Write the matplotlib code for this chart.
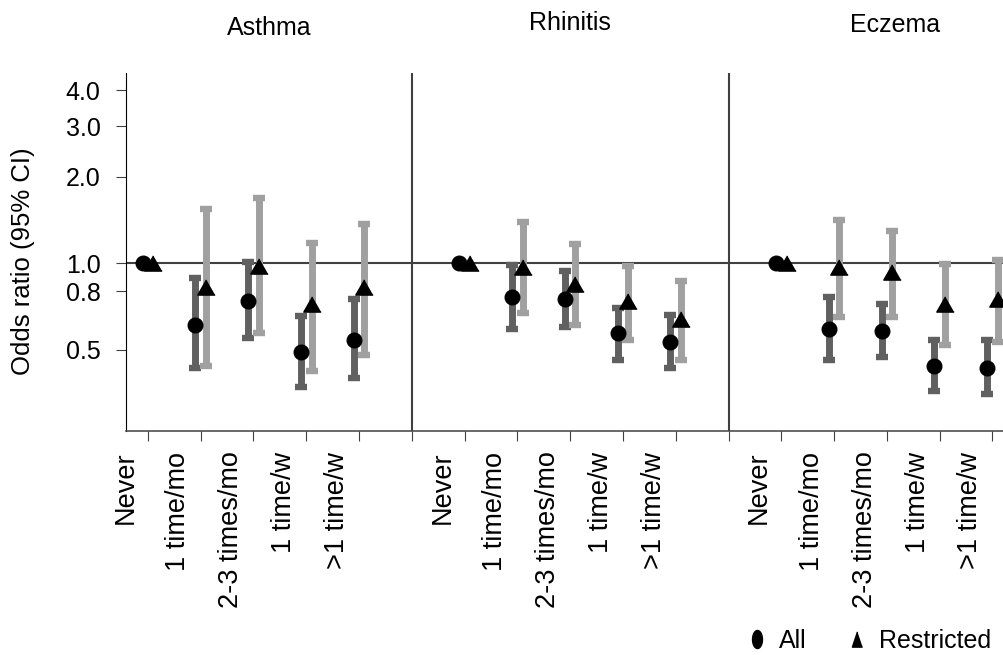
import numpy as np
import matplotlib.pyplot as plt
from matplotlib.lines import Line2D

plt.rcParams['font.family'] = ['Liberation Sans', 'DejaVu Sans']

outcomes = ['Asthma', 'Rhinitis', 'Eczema']
categories = ['Never', '1 time/mo', '2-3 times/mo', '1 time/w', '>1 time/w']
nan = float('nan')

# odds ratios (95% CI), one row per outcome; "Never" is the reference
all_or = [[1.0, 0.61, 0.74, 0.49, 0.54],
          [1.0, 0.76, 0.75, 0.57, 0.53],
          [1.0, 0.59, 0.58, 0.44, 0.43]]
all_lo = [[nan, 0.43, 0.55, 0.37, 0.40],
          [nan, 0.59, 0.60, 0.46, 0.43],
          [nan, 0.46, 0.47, 0.36, 0.35]]
all_hi = [[nan, 0.89, 1.01, 0.655, 0.75],
          [nan, 0.99, 0.94, 0.70, 0.66],
          [nan, 0.76, 0.72, 0.54, 0.54]]

res_or = [[1.0, 0.83, 0.98, 0.72, 0.83],
          [1.0, 0.97, 0.85, 0.74, 0.64],
          [1.0, 0.97, 0.935, 0.72, 0.75]]
res_lo = [[nan, 0.44, 0.57, 0.42, 0.48],
          [nan, 0.67, 0.61, 0.54, 0.46],
          [nan, 0.65, 0.65, 0.52, 0.53]]
res_hi = [[nan, 1.55, 1.69, 1.18, 1.37],
          [nan, 1.39, 1.17, 0.98, 0.87],
          [nan, 1.42, 1.30, 0.995, 1.03]]

yticks = [0.5, 0.8, 1.0, 2.0, 3.0, 4.0]

dark = '#606060'
light = '#a0a0a0'
line_col = '#404040'

fig = plt.figure(figsize=(10.04, 6.55), dpi=100)
ax = fig.add_axes([0.1252, 0.3424, 0.9159, 0.5461])
ax.set_yscale('log')

# triangle a bit wider than tall, like the original
tri = [(0, 0.875), (-1, -0.875), (1, -0.875)]

for p in range(3):
    x = np.arange(5) + 6 * p
    o = np.array(all_or[p]); lo = np.array(all_lo[p]); hi = np.array(all_hi[p])
    ro = np.array(res_or[p]); rlo = np.array(res_lo[p]); rhi = np.array(res_hi[p])
    ax.errorbar(x - 0.1, o, yerr=[o - lo, hi - o], fmt='none', ecolor=dark,
                elinewidth=5, capsize=4.4, capthick=4.6, zorder=2)
    ax.errorbar(x + 0.1, ro, yerr=[ro - rlo, rhi - ro], fmt='none', ecolor=light,
                elinewidth=5, capsize=4.4, capthick=4.6, zorder=2)
    ax.plot(x - 0.1, o, 'o', color='black', ms=10.5, ls='none', zorder=4)
    ax.plot(x + 0.1, ro, marker=tri, color='black', ms=12.5, ls='none', zorder=4)

ax.axhline(1.0, color=line_col, lw=1.5, zorder=1)
for xd in [5, 11]:
    ax.axvline(xd, color=line_col, lw=1.5, zorder=1)

title_x = [2.3, 8.0, 14.15]
title_y = [1.106, 1.12, 1.114]
for t, xt, yt in zip(outcomes, title_x, title_y):
    ax.text(xt, yt, t, transform=ax.get_xaxis_transform(), ha='center',
            va='baseline', fontsize=18)

ax.set_xlim(-0.4167, 17)
ax.set_ylim(0.261, 4.60)

ax.set_yticks(yticks)
ax.set_yticklabels(['%.1f' % v for v in yticks])
ax.yaxis.set_minor_locator(plt.NullLocator())
ax.tick_params(axis='y', which='major', length=7, width=0.8, color=line_col,
               pad=11, labelsize=18)

ax.set_xticks(np.arange(17))
ax.set_xticklabels([])
label_pos = [6 * p + c - 0.42 for p in range(3) for c in range(5)]
ax.set_xticks(label_pos, categories * 3, minor=True)
ax.tick_params(axis='x', which='major', length=7, width=0.8, color=line_col)
ax.tick_params(axis='x', which='minor', length=0, pad=15, labelsize=19.5,
               labelrotation=90)

for s in ['top', 'right']:
    ax.spines[s].set_visible(False)
ax.spines['left'].set_color('black')
ax.spines['left'].set_linewidth(0.8)
ax.spines['bottom'].set_color(line_col)
ax.spines['bottom'].set_linewidth(1.1)

fig.text(23 / 1004, 1 - 261.5 / 655, 'Odds ratio (95% CI)', rotation=90,
         ha='center', va='center', fontsize=18.5)

ell = [(0.55 * np.cos(a), np.sin(a)) for a in np.linspace(0, 2 * np.pi, 40)]
tall_tri = [(0, 1), (-0.667, -1), (0.667, -1)]
handles = [Line2D([], [], ls='none', marker=ell, color='black', ms=13),
           Line2D([], [], ls='none', marker=tall_tri, color='black', ms=11)]
fig.legend(handles, ['All', 'Restricted'], ncol=2, loc='center',
           bbox_to_anchor=(0.867, 0.022), frameon=False, fontsize=18,
           handlelength=0.6, handletextpad=0.6, columnspacing=1.7,
           borderaxespad=0, borderpad=0)

fig.savefig('out.png', dpi=100)
